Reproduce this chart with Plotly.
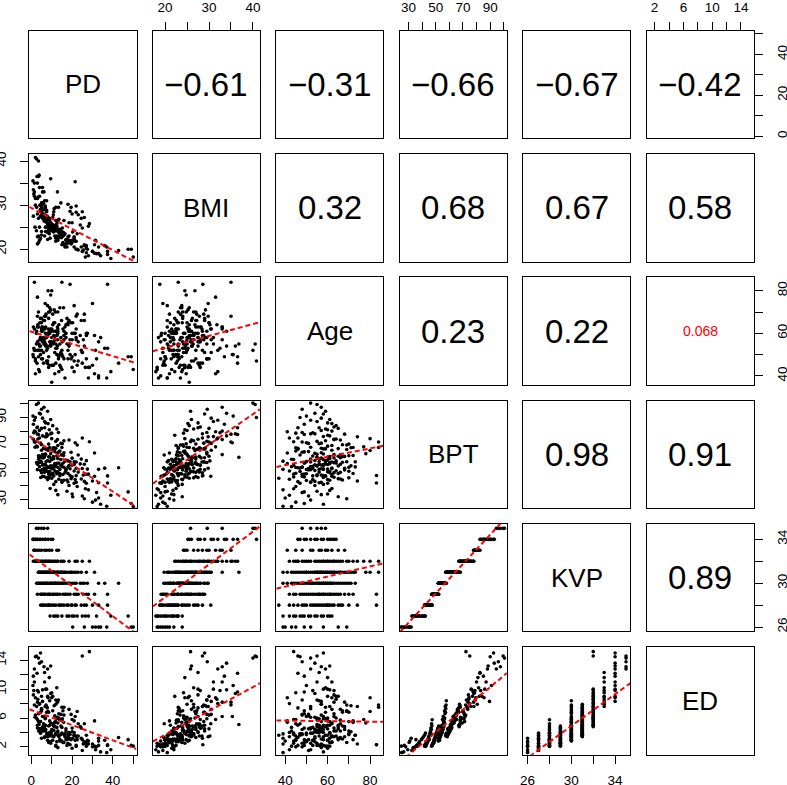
import plotly.graph_objects as go

VARS = ["PD", "BMI", "Age", "BPT", "KVP", "ED"]

# observations, grouped by KVP level (35 down to 26)
PD = [2.5, 5.0, 8.0, 3.5, 6.2,
      4.5, 2.0, 9.5, 1.0, 6.5, 3.0, 0.8, 10.5, 5.5, 2.8, 7.0, 4.0, 1.5, 8.2,
      6.5, 1.5, 10.0, 3.0, 7.5, 12.5, 2.0, 5.0, 4.0, 13.3, 8.8, 1.2,
      7.5, 1.0, 12.0, 3.5, 5.0, 14.5, 2.5, 9.0, 6.0, 11.5,
      4.0, 16.0, 1.5, 8.5, 28.5, 25.0, 13.0, 3.0, 21.5, 7.0,
      10.0, 5.5, 18.5, 2.0, 9.5, 22.5, 4.5, 12.8, 1.8, 6.8,
      15.2, 3.2, 10.8, 8.0,
      12.0, 5.0, 19.5, 7.0, 3.5, 14.0, 9.0, 24.5, 6.0, 16.5,
      10.0, 21.0, 8.0, 13.0, 4.5, 18.0, 11.0, 6.5, 23.0, 15.0,
      7.5, 31.0, 9.5, 12.5, 5.5, 20.0, 14.5, 8.5, 17.0, 3.8,
      11.5, 10.5, 6.8, 22.0, 13.5, 4.2, 9.8, 15.8, 7.8, 27.0,
      5.2, 12.8, 8.2, 19.0, 10.8, 16.0, 3.6, 14.8, 6.2, 11.2,
      9.0, 2.6, 15.5, 6.0, 20.0, 11.0, 4.0, 24.0, 13.0, 7.5,
      18.5, 10.0, 33.0, 5.5, 22.0, 12.0, 27.5, 8.0, 14.0, 42.8,
      17.0, 3.5, 11.5, 26.0, 7.0, 16.0, 9.5, 5.0, 19.0, 13.5,
      8.8, 21.0, 10.5, 4.5, 25.0, 12.5, 6.5, 15.0, 3.0, 36.0,
      7.2, 14.5, 18.0, 11.8,
      11.0, 3.0, 17.0, 8.0, 23.0, 5.0, 14.0, 28.0, 9.5, 19.0,
      31.0, 12.5, 6.5, 37.4, 15.5, 10.5, 25.5, 7.0, 21.0, 13.0,
      4.5, 16.5, 8.5, 22.0, 11.8, 6.0, 18.0, 27.0, 9.0, 5.5,
      14.0, 6.0, 20.0, 4.6, 10.0, 24.5, 8.0, 16.0, 30.0, 12.0,
      22.0, 37.4, 18.0, 27.0, 9.0, 13.5, 7.0, 15.0, 11.0, 19.5,
      26.0, 5.5, 17.5, 33.0, 8.5, 21.5,
      15.0, 11.0, 22.5, 9.2, 28.0, 17.5, 32.0, 20.0, 39.0, 25.0,
      13.0, 47.5, 18.5, 26.5, 12.0, 21.0,
      20.3, 26.0, 30.0, 31.5, 34.0, 37.0, 49.0, 50.0, 33.0]

BMI = [40.5, 29.6, 25.8, 40.0, 33.0,
       29.0, 40.8, 26.0, 33.5, 31.0, 28.0, 35.5, 25.5, 30.5, 36.5, 27.5, 34.0, 32.0, 25.2,
       27.5, 33.0, 24.2, 35.0, 28.5, 26.5, 31.5, 30.0, 25.0, 29.5, 24.5, 32.5,
       31.0, 27.5, 29.5, 36.5, 24.0, 30.5, 24.2, 25.5, 28.0, 23.0,
       32.0, 26.5, 35.0, 27.0, 25.8, 28.5, 22.5, 31.5, 35.3, 29.0,
       24.5, 34.0, 26.0, 30.0, 36.0, 23.5, 28.8, 33.0, 25.0, 29.8,
       24.8, 31.8, 27.8, 22.2,
       26.5, 30.5, 29.5, 25.0, 23.0, 24.5, 27.0, 27.0, 29.0, 23.5,
       25.5, 20.5, 26.0, 22.5, 22.4, 30.2, 24.0, 27.8, 19.8, 23.0,
       28.8, 21.0, 24.8, 25.2, 33.0, 26.0, 23.2, 26.2, 22.2, 36.8,
       24.2, 27.2, 29.5, 28.4, 22.8, 30.0, 25.8, 23.8, 27.5, 20.8,
       28.2, 24.6, 26.8, 21.8, 25.4, 23.4, 21.5, 22.6, 26.4, 29.2,
       26.0, 29.5, 23.0, 27.5, 28.0, 25.0, 22.0, 25.5, 24.0, 26.5,
       22.0, 25.5, 20.5, 28.0, 29.8, 24.5, 20.0, 23.8, 22.8, 19.7,
       21.2, 27.0, 24.8, 27.2, 26.2, 23.2, 25.2, 23.2, 21.8, 26.8,
       23.5, 22.6, 24.2, 29.0, 24.8, 25.8, 23.0, 24.0, 21.2, 20.8,
       28.8, 23.6, 21.4, 25.4,
       25.0, 22.8, 22.0, 26.0, 27.8, 28.5, 23.5, 25.2, 24.5, 28.6,
       19.1, 23.0, 27.0, 19.5, 21.5, 25.5, 19.8, 24.0, 22.2, 26.5,
       27.5, 20.5, 23.8, 21.8, 24.8, 29.0, 22.8, 20.2, 25.8, 28.0,
       23.0, 30.4, 22.0, 27.5, 25.5, 20.5, 24.0, 21.0, 19.5, 22.5,
       20.0, 18.8, 21.5, 19.2, 26.5, 23.8, 25.0, 22.8, 28.5, 21.2,
       20.8, 27.0, 22.2, 19.0, 24.5, 21.8,
       21.0, 23.9, 20.0, 22.5, 18.5, 20.5, 19.0, 21.5, 17.9, 19.5,
       22.0, 20.0, 23.0, 18.2, 21.8, 22.8,
       23.9, 21.0, 19.5, 22.0, 18.5, 20.5, 20.0, 18.2, 19.0]

Age = [55, 48, 59, 52, 57,
       58, 47, 61, 49, 55, 63, 50, 64, 57, 46, 60, 54, 52, 62,
       56, 62, 45, 68, 52, 59, 41, 65, 57, 48, 60, 53,
       58, 63, 55, 49, 67, 51, 60, 72, 46, 65,
       42, 59, 84, 70, 44, 46, 62, 77, 50, 58,
       80, 61, 66, 48, 54, 69, 57, 63, 52, 74,
       56, 64, 45, 60,
       57, 62, 48, 55, 70, 45, 60, 52, 66, 39,
       58, 73, 54, 61, 50, 64, 56, 68, 47, 84,
       59, 41, 78, 53, 63, 57, 44, 67, 60, 55,
       51, 69, 58, 62, 49, 65, 56, 72, 46, 59,
       63, 54, 80, 50, 61, 57, 43, 66, 55, 71,
       56, 61, 49, 58, 44, 65, 52, 59, 70, 47,
       55, 62, 39, 57, 68, 53, 60, 73, 50, 46,
       58, 63, 41, 66, 54, 48, 71, 52, 57, 64,
       45, 60, 55, 67, 51, 59, 62, 43, 56, 53,
       69, 58, 48, 61,
       58, 52, 64, 47, 56, 61, 72, 44, 55, 83,
       59, 50, 66, 53, 62, 45, 57, 68, 42, 60,
       54, 63, 49, 58, 70, 51, 65, 48, 61, 56,
       55, 62, 49, 58, 37, 66, 53, 61, 74, 46,
       57, 83, 52, 60, 70, 42, 63, 50, 59, 65,
       54, 48, 67, 56, 44, 60,
       52, 58, 45, 62, 39, 55, 48, 60, 42, 51,
       57, 49, 54, 44, 61, 47,
       65, 69, 45, 52, 58, 39, 49, 43, 40]

BPT = [99.5, 96.0, 94.5, 100.5, 97.5,
       92.5, 90.0, 88.5, 85.0, 87.0, 83.0, 91.0, 84.0, 89.5, 82.5, 86.0, 93.0, 88.0, 85.5,
       82.5, 80.0, 78.5, 77.8, 78.0, 81.5, 79.5, 82.0, 80.5, 79.0, 81.0, 78.8,
       76.0, 74.0, 72.5, 77.5, 70.0, 71.0, 69.0, 68.0, 67.5, 67.2,
       75.0, 73.0, 72.0, 70.5, 72.2, 75.0, 69.5, 68.5, 71.5, 67.0,
       74.5, 76.5, 73.5, 72.0, 78.0, 69.8, 71.2, 73.8, 68.2, 75.8,
       70.8, 74.2, 67.8, 77.0,
       67.5, 66.0, 64.5, 63.0, 62.0, 65.5, 61.0, 59.5, 60.5, 58.0,
       59.0, 57.5, 58.5, 60.0, 57.8, 58.2, 59.8, 61.5, 62.5, 68.0,
       67.0, 64.0, 63.5, 61.8, 62.8, 60.2, 59.2, 61.2, 58.8, 60.8,
       65.0, 66.5, 63.2, 57.4, 64.8, 61.6, 59.6, 62.2, 66.8, 58.4,
       60.4, 63.8, 65.8, 57.6, 61.4, 64.2, 59.4, 62.6, 60.6, 67.8,
       57.8, 57.0, 56.5, 55.5, 55.0, 54.5, 54.0, 56.0, 53.5, 53.0,
       54.8, 52.5, 52.0, 55.2, 52.8, 54.2, 52.2, 53.8, 51.9, 53.2,
       52.0, 56.8, 56.2, 55.8, 55.4, 53.6, 54.6, 57.4, 52.4, 56.6,
       53.4, 55.6, 54.4, 57.2, 52.6, 56.4, 53.0, 54.0, 55.8, 52.9,
       57.6, 54.9, 53.7, 56.1,
       52.2, 51.8, 51.0, 50.5, 50.0, 49.5, 49.0, 48.5, 48.0, 47.5,
       47.0, 48.8, 49.8, 47.2, 48.2, 49.2, 47.8, 51.5, 50.8, 50.2,
       51.2, 49.6, 48.6, 47.4, 50.6, 51.6, 49.0, 48.4, 50.4, 52.0,
       47.4, 47.0, 46.5, 46.0, 45.5, 45.0, 44.5, 44.0, 43.5, 43.0,
       42.5, 42.0, 42.8, 41.8, 45.8, 44.8, 46.2, 43.8, 47.2, 45.2,
       43.2, 46.8, 44.2, 42.2, 46.4, 44.6,
       42.5, 41.0, 39.5, 38.0, 37.0, 36.0, 35.0, 34.0, 33.0, 32.5,
       33.5, 35.5, 40.2, 37.8, 36.6, 41.8,
       32.0, 30.5, 28.0, 29.5, 26.5, 25.0, 27.0, 24.8, 31.0]

KVP = [35, 35, 35, 35, 35,
       34, 34, 34, 34, 34, 34, 34, 34, 34, 34, 34, 34, 34, 34,
       33, 33, 33, 33, 33, 33, 33, 33, 33, 33, 33, 33,
       32, 32, 32, 32, 32, 32, 32, 32, 32, 32,
       32, 32, 32, 32, 32, 32, 32, 32, 32, 32,
       32, 32, 32, 32, 32, 32, 32, 32, 32, 32,
       32, 32, 32, 32,
       31, 31, 31, 31, 31, 31, 31, 31, 31, 31,
       31, 31, 31, 31, 31, 31, 31, 31, 31, 31,
       31, 31, 31, 31, 31, 31, 31, 31, 31, 31,
       31, 31, 31, 31, 31, 31, 31, 31, 31, 31,
       31, 31, 31, 31, 31, 31, 31, 31, 31, 31,
       30, 30, 30, 30, 30, 30, 30, 30, 30, 30,
       30, 30, 30, 30, 30, 30, 30, 30, 30, 30,
       30, 30, 30, 30, 30, 30, 30, 30, 30, 30,
       30, 30, 30, 30, 30, 30, 30, 30, 30, 30,
       30, 30, 30, 30,
       29, 29, 29, 29, 29, 29, 29, 29, 29, 29,
       29, 29, 29, 29, 29, 29, 29, 29, 29, 29,
       29, 29, 29, 29, 29, 29, 29, 29, 29, 29,
       28, 28, 28, 28, 28, 28, 28, 28, 28, 28,
       28, 28, 28, 28, 28, 28, 28, 28, 28, 28,
       28, 28, 28, 28, 28, 28,
       27, 27, 27, 27, 27, 27, 27, 27, 27, 27,
       27, 27, 27, 27, 27, 27,
       26, 26, 26, 26, 26, 26, 26, 26, 26]

ED = [14.6, 13.8, 12.8, 14.3, 13.1,
      15.0, 14.5, 13.2, 11.8, 11.0, 9.8, 10.5, 9.0, 8.3, 12.2, 10.0, 13.6, 12.8, 8.8,
      12.3, 11.0, 9.5, 8.2, 7.6, 10.2, 8.8, 9.0, 7.9, 8.5, 11.6, 9.8,
      10.0, 9.2, 8.5, 9.6, 7.0, 6.5, 6.0, 5.6, 5.0, 4.8,
      8.0, 7.5, 7.8, 6.8, 15.2, 14.6, 5.3, 5.8, 6.2, 5.0,
      8.8, 9.9, 7.2, 6.4, 9.4, 6.9, 5.5, 8.2, 6.1, 7.6,
      5.9, 8.6, 5.2, 9.0,
      7.9, 7.2, 6.5, 6.0, 5.5, 5.8, 5.0, 4.6, 4.2, 3.8,
      4.4, 3.6, 3.4, 4.0, 3.9, 3.5, 4.3, 4.8, 5.2, 7.5,
      6.8, 5.6, 5.3, 4.7, 6.2, 4.1, 3.7, 4.9, 4.5, 5.1,
      6.3, 7.0, 5.9, 3.5, 6.6, 4.5, 4.0, 5.4, 7.4, 3.6,
      4.6, 6.1, 6.9, 3.7, 5.0, 6.4, 4.2, 5.7, 4.8, 7.7,
      8.4, 7.6, 7.0, 6.2, 5.8, 5.0, 4.5, 4.8, 4.2, 3.8,
      4.0, 3.5, 3.2, 4.6, 3.4, 3.9, 2.9, 3.6, 2.8, 3.3,
      3.0, 6.6, 5.4, 5.2, 4.4, 3.7, 4.1, 7.3, 3.1, 6.0,
      3.5, 5.6, 4.3, 6.8, 3.0, 5.9, 3.4, 4.7, 5.0, 2.9,
      7.8, 4.9, 3.8, 5.5,
      4.9, 4.6, 4.2, 3.8, 3.5, 3.2, 3.0, 2.8, 2.5, 2.3,
      2.1, 2.7, 3.3, 2.2, 2.6, 2.9, 2.4, 4.4, 4.0, 3.6,
      4.1, 3.4, 2.6, 2.2, 3.7, 4.5, 3.1, 2.5, 3.9, 4.7,
      5.75, 5.2, 4.6, 4.0, 3.6, 3.2, 2.9, 2.6, 2.4, 2.2,
      2.05, 2.3, 2.5, 2.1, 3.8, 3.4, 4.2, 2.8, 4.9, 3.0,
      2.7, 4.4, 3.1, 2.2, 3.9, 2.9,
      3.9, 3.4, 3.0, 2.7, 2.4, 2.2, 2.0, 1.8, 1.6, 1.5,
      1.9, 3.0, 3.2, 2.5, 2.1, 3.6,
      3.2, 2.6, 2.0, 1.6, 1.3, 1.2, 2.2, 2.1, 2.8]

# axis ranges (data units)
PD_RANGE = [-1.0, 51.6]
BMI_RANGE = [17.2, 41.6]
AGE_RANGE = [35.8, 86.3]
BPT_RANGE = [23.6, 102.3]
KVP_RANGE = [25.6, 35.4]
ED_RANGE = [0.9, 15.8]

PD_TICKS = [0, 10, 20, 30, 40, 50]
PD_TICKTEXT = ["0", "", "20", "", "40", ""]
BMI_TICKS = [20, 25, 30, 35, 40]
BMI_TICKTEXT = ["20", "", "30", "", "40"]
AGE_TICKS = [40, 50, 60, 70, 80]
AGE_TICKTEXT = ["40", "", "60", "", "80"]
BPT_TICKS = [30, 40, 50, 60, 70, 80, 90, 100]
BPT_TICKTEXT = ["30", "", "50", "", "70", "", "90", ""]
KVP_TICKS = [26, 28, 30, 32, 34]
KVP_TICKTEXT = ["26", "", "30", "", "34"]
ED_TICKS = [2, 4, 6, 8, 10, 12, 14]
ED_TICKTEXT = ["2", "", "6", "", "10", "", "14"]

# regression lines (intercept, slope) for lower panels, row by row
FIT_INTERCEPT = [29.36,
                 60.76, 41.97,
                 75.3, 3.24, 42.85,
                 32.5, 22.74, 27.85, 22.37,
                 7.115, -2.95, 5.78, -3.84, -28.1]
FIT_SLOPE = [-0.24,
             -0.287, 0.56,
             -0.99, 2.23, 0.306,
             -0.138, 0.299, 0.046, 0.134,
             -0.105, 0.331, -0.0036, 0.157, 1.10]

# correlations shown in upper panels, row by row
CORR_TEXT = ["\u22120.61", "\u22120.31", "\u22120.66", "\u22120.67", "\u22120.42",
             "0.32", "0.68", "0.67", "0.58",
             "0.23", "0.22", "0.068",
             "0.98", "0.91",
             "0.89"]
CORR_SIGNIF = [True, True, True, True, True,
               True, True, True, True,
               True, True, False,
               True, True,
               True]

DATA = {"PD": PD, "BMI": BMI, "Age": Age, "BPT": BPT, "KVP": KVP, "ED": ED}
RANGES = {"PD": PD_RANGE, "BMI": BMI_RANGE, "Age": AGE_RANGE, "BPT": BPT_RANGE, "KVP": KVP_RANGE, "ED": ED_RANGE}
TICKS = {"PD": (PD_TICKS, PD_TICKTEXT), "BMI": (BMI_TICKS, BMI_TICKTEXT), "Age": (AGE_TICKS, AGE_TICKTEXT),
         "BPT": (BPT_TICKS, BPT_TICKTEXT), "KVP": (KVP_TICKS, KVP_TICKTEXT), "ED": (ED_TICKS, ED_TICKTEXT)}

W, H = 787, 785
X0, Y0, PITCH_X, PITCH_Y, SIZE_X, SIZE_Y = 29.3, 30.7, 123.48, 123.32, 107.2, 107.5
FONT = "Liberation Sans, Arial, Helvetica, sans-serif"

fig = go.Figure()
layout = {}
annotations = []
fit_k = 0
corr_k = 0
for i in range(6):
    for j in range(6):
        n = i * 6 + j + 1
        sfx = "" if n == 1 else str(n)
        xl = X0 + PITCH_X * j
        yt = Y0 + PITCH_Y * i
        xd = [xl / W, (xl + SIZE_X) / W]
        yd = [1 - (yt + SIZE_Y) / H, 1 - yt / H]
        base = dict(showgrid=False, zeroline=False, showline=True, mirror=True,
                    linecolor="black", linewidth=1.1, ticks="", showticklabels=False,
                    fixedrange=True, automargin=False)
        xa = dict(base, domain=xd, range=RANGES[VARS[j]], anchor="y" + sfx)
        ya = dict(base, domain=yd, range=RANGES[VARS[i]], anchor="x" + sfx)
        tick_style = dict(ticks="outside", ticklen=8, tickwidth=1, tickcolor="black",
                          showticklabels=True, tickfont=dict(family=FONT, size=13.5, color="black"))
        if i == 0 and j % 2 == 1:
            tv, tt = TICKS[VARS[j]]
            xa.update(tick_style, side="top", tickvals=tv, ticktext=tt, ticklabelstandoff=4)
        if i == 5 and j % 2 == 0:
            tv, tt = TICKS[VARS[j]]
            xa.update(tick_style, side="bottom", tickvals=tv, ticktext=tt, ticklabelstandoff=5)
        if j == 0 and i % 2 == 1:
            tv, tt = TICKS[VARS[i]]
            ya.update(tick_style, side="left", tickvals=tv, ticktext=tt, tickangle=-90, ticklabelstandoff=9)
        if j == 5 and i % 2 == 0:
            tv, tt = TICKS[VARS[i]]
            ya.update(tick_style, side="right", tickvals=tv, ticktext=tt, tickangle=-90, ticklabelstandoff=8)
        layout["xaxis" + sfx] = xa
        layout["yaxis" + sfx] = ya

        cx = (xl + SIZE_X / 2) / W
        cy = 1 - (yt + SIZE_Y / 2) / H
        if i > j:
            xv = DATA[VARS[j]]
            yv = DATA[VARS[i]]
            fig.add_trace(go.Scatter(x=xv, y=yv, mode="markers", xaxis="x" + sfx, yaxis="y" + sfx,
                                     marker=dict(size=3.6, color="black", line=dict(width=0)),
                                     showlegend=False, hoverinfo="skip"))
            a, b = FIT_INTERCEPT[fit_k], FIT_SLOPE[fit_k]
            fit_k += 1
            xr = RANGES[VARS[j]]
            fig.add_trace(go.Scatter(x=[xr[0], xr[1]], y=[a + b * xr[0], a + b * xr[1]], mode="lines",
                                     xaxis="x" + sfx, yaxis="y" + sfx,
                                     line=dict(color="#ff0000", width=2, dash="5px,3px"),
                                     showlegend=False, hoverinfo="skip"))
        else:
            fig.add_trace(go.Scatter(x=[], y=[], xaxis="x" + sfx, yaxis="y" + sfx,
                                     showlegend=False, hoverinfo="skip"))
            if i == j:
                annotations.append(dict(x=cx, y=cy, xref="paper", yref="paper", text=VARS[i],
                                        showarrow=False, xanchor="center", yanchor="middle",
                                        font=dict(family=FONT, size=26, color="black")))
            else:
                sig = CORR_SIGNIF[corr_k]
                annotations.append(dict(x=cx, y=cy, xref="paper", yref="paper", text=CORR_TEXT[corr_k],
                                        showarrow=False, xanchor="center", yanchor="middle",
                                        font=dict(family=FONT, size=33 if sig else 14,
                                                  color="black" if sig else "#ff0000")))
                corr_k += 1

fig.update_layout(width=W, height=H, autosize=False, margin=dict(l=0, r=0, t=0, b=0),
                  paper_bgcolor="white", plot_bgcolor="white", showlegend=False,
                  annotations=annotations, **layout)
fig.write_html("out.html", config={"displayModeBar": False},
               post_script="document.body.style.margin='0';document.body.style.overflow='hidden';")
